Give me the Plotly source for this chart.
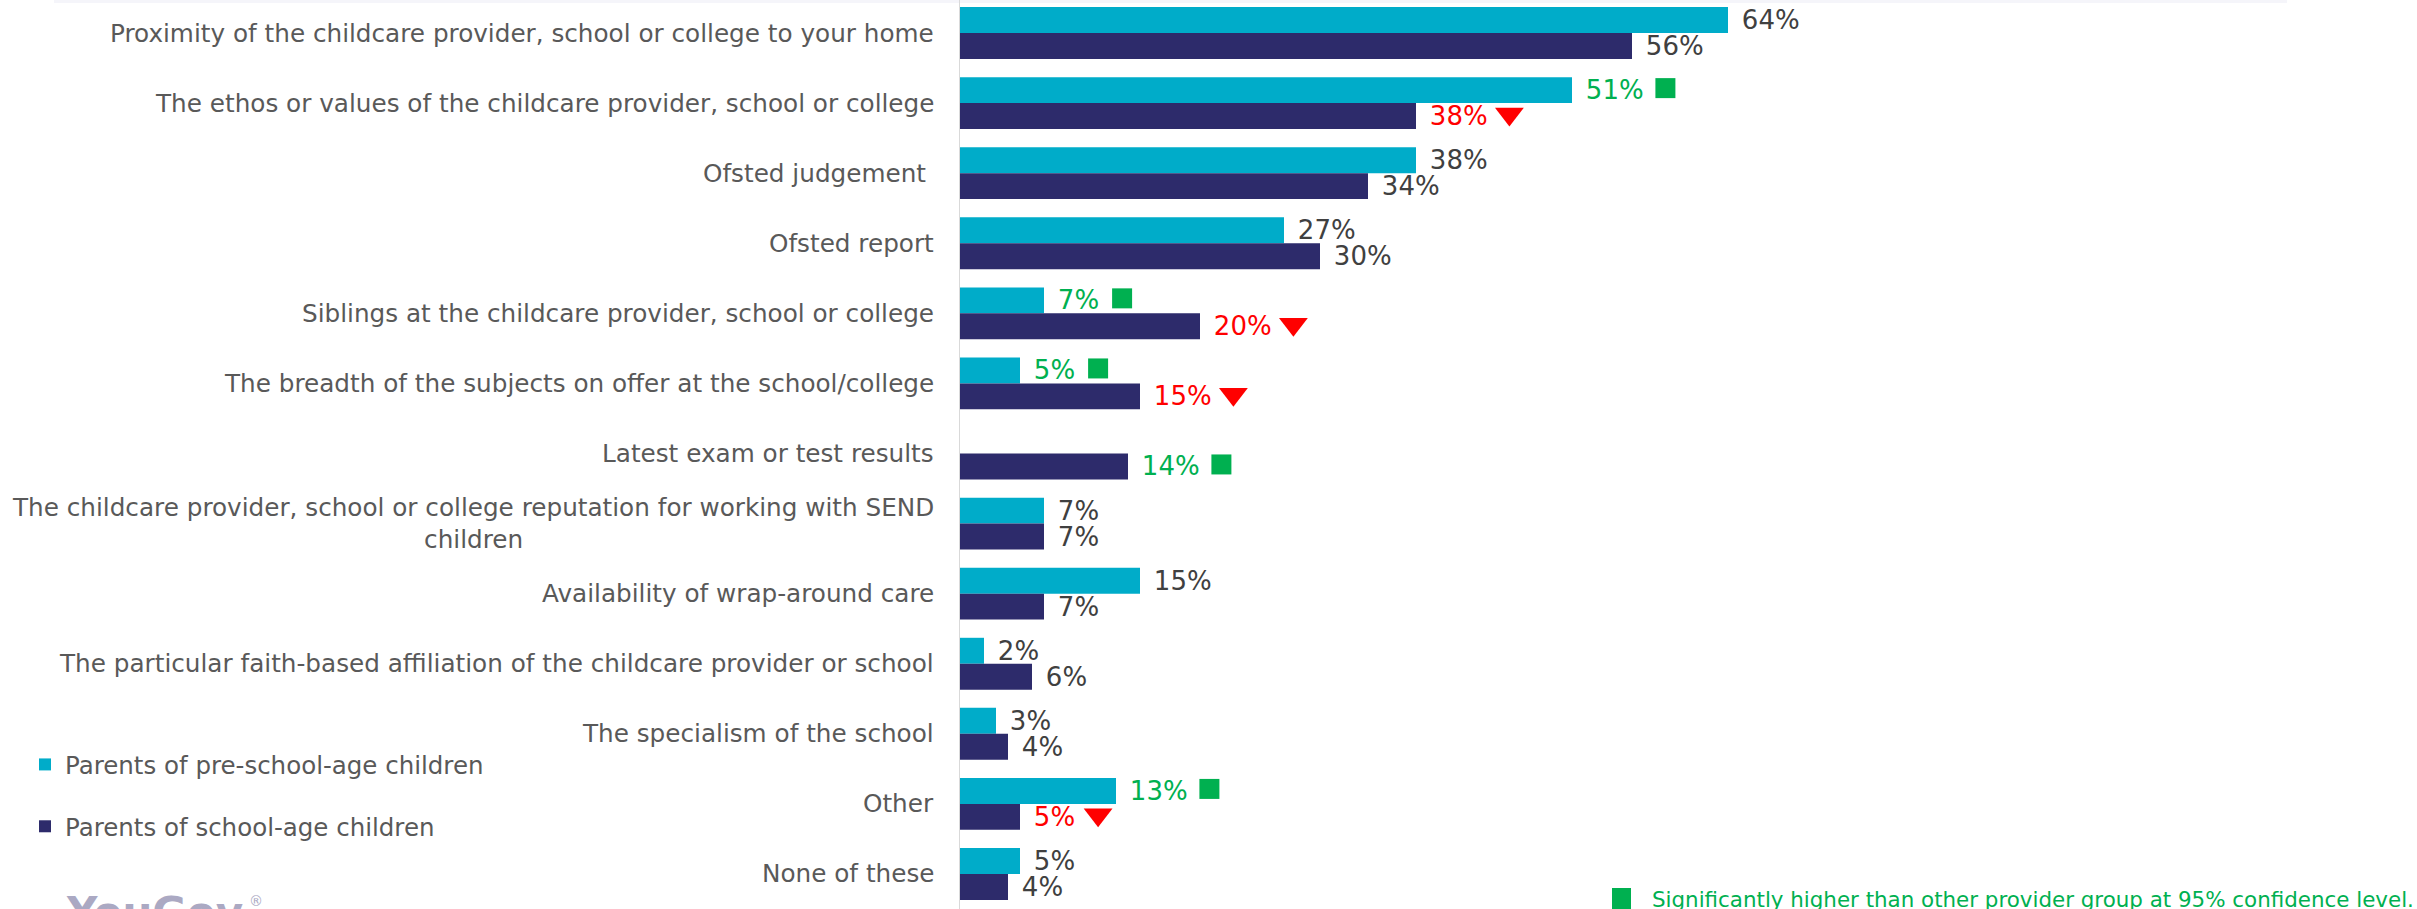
import plotly.graph_objects as go

categories = [
    "Proximity of the childcare provider, school or college to your home",
    "The ethos or values of the childcare provider, school or college",
    "Ofsted judgement\u00a0",
    "Ofsted report",
    "Siblings at the childcare provider, school or college",
    "The breadth of the subjects on offer at the school/college",
    "Latest exam or test results",
    "The childcare provider, school or college reputation for working with SEND<br>children",
    "Availability of wrap-around care",
    "The particular faith-based affiliation of the childcare provider or school",
    "The specialism of the school",
    "Other",
    "None of these",
]
pre_school = [64, 51, 38, 27, 7, 5, None, 7, 15, 2, 3, 13, 5]
school_age = [56, 38, 34, 30, 20, 15, 14, 7, 7, 6, 4, 5, 4]
# significance flags: "higher" / "lower" / ""
pre_sig = ["", "higher", "", "", "higher", "higher", "", "", "", "", "", "higher", ""]
school_sig = ["", "lower", "", "", "lower", "lower", "higher", "", "", "", "", "lower", ""]
series_names = ["Parents of pre-school-age children", "Parents of school-age children"]
footnote = "Significantly higher than other provider group at 95% confidence level."

# ---- style ----
W, H = 2417, 909
ML, MR = 960, 257
X_MAX = 100
Y_RANGE = [12.5, -0.471]
PW = W - ML - MR
PX_X = PW / X_MAX
PX_Y = H / (Y_RANGE[0] - Y_RANGE[1])
BAR_W = 0.37
C_PRE = "#00ACC9"
C_SCH = "#2D2B6B"
C_TXT = "#404040"
C_LAB = "#595959"
C_HI = "#00B050"
C_LO = "#FF0000"
C_LOGO = "#ABA9C3"
FONT = "DejaVu Sans"
FS_CAT = 24.7
FS_VAL = 26
FS_LEG = 24.5

def val_color(sig):
    return C_HI if sig == "higher" else (C_LO if sig == "lower" else C_TXT)

def label_px(v):
    return 3 + 12 + 15.3 * len(str(v)) + 22.8

def bar_text(v):
    return "" if v is None else "\u00a0\u200a" + str(v) + "%"

fig = go.Figure()
ypos = list(range(len(categories)))

for name, vals, sig, col, off in [
    (series_names[0], pre_school, pre_sig, C_PRE, -BAR_W),
    (series_names[1], school_age, school_sig, C_SCH, 0.0),
]:
    fig.add_trace(go.Bar(
        name=name, x=vals, y=ypos, orientation="h",
        width=BAR_W, offset=off,
        marker=dict(color=col, line=dict(width=0)),
        text=[bar_text(v) for v in vals], textposition="outside",
        constraintext="none", cliponaxis=False,
        textfont=dict(family=FONT, size=FS_VAL, color=[val_color(s) for s in sig]),
        hoverinfo="skip", legendgroup=name,
    ))

# significance markers
for vals, sig, yoff_bar in [(pre_school, pre_sig, -BAR_W / 2), (school_age, school_sig, BAR_W / 2)]:
    for kind, sym, col, size, dy in [("higher", "square", C_HI, 20, -2), ("lower", "triangle-down", C_LO, 25, -2)]:
        xs, ys = [], []
        for i, (v, s) in enumerate(zip(vals, sig)):
            if s == kind and v is not None:
                xs.append(v + (label_px(v) + 25) / PX_X)
                ys.append(i + yoff_bar + dy / PX_Y)
        if xs:
            fig.add_trace(go.Scatter(
                x=xs, y=ys, mode="markers", showlegend=False, hoverinfo="skip",
                cliponaxis=False,
                marker=dict(symbol=sym, color=col, size=size, line=dict(width=0)),
            ))

annotations = []
for i, c in enumerate(categories):
    annotations.append(dict(
        x=0, y=i, xref="x", yref="y", text=c, showarrow=False,
        xanchor="right", yanchor="middle", align="center", xshift=-24,
        font=dict(family=FONT, size=FS_CAT, color=C_LAB),
    ))
annotations.append(dict(
    x=(1650 - ML) / PW, y=1 - 885 / H, xref="paper", yref="paper",
    text=footnote, showarrow=False, xanchor="left", yanchor="top",
    font=dict(family=FONT, size=21.4, color=C_HI),
))
annotations.append(dict(
    x=(64 - ML) / PW, y=1 - 886 / H, xref="paper", yref="paper",
    text="<b>YouGov</b>", showarrow=False, xanchor="left", yanchor="top",
    font=dict(family=FONT, size=42, color=C_LOGO),
))
annotations.append(dict(
    x=(256 - ML) / PW, y=1 - 901 / H, xref="paper", yref="paper",
    text="®", showarrow=False, xanchor="center", yanchor="middle",
    font=dict(family=FONT, size=14, color=C_LOGO),
))

shapes = [
    dict(type="rect", xref="paper", yref="paper",
         x0=(54 - ML) / PW, x1=(2287 - ML) / PW, y0=1 - 3 / H, y1=1,
         fillcolor="#F5F5FA", line=dict(width=0), layer="below"),
    dict(type="rect", xref="paper", yref="paper",
         x0=(1612 - ML) / PW, x1=(1631 - ML) / PW, y0=1 - 915 / H, y1=1 - 888 / H,
         fillcolor=C_HI, line=dict(width=0)),
]

fig.update_layout(
    width=W, height=H,
    margin=dict(l=ML, r=MR, t=0, b=0, pad=0),
    paper_bgcolor="white", plot_bgcolor="white",
    barmode="overlay",
    showlegend=True,
    legend=dict(
        x=(25 - ML) / PW, y=1 - 742 / H, xanchor="left", yanchor="top",
        traceorder="grouped", tracegroupgap=27,
        font=dict(family=FONT, size=FS_LEG, color=C_LAB),
        bgcolor="rgba(0,0,0,0)",
    ),
    xaxis=dict(range=[0, X_MAX], showgrid=False, zeroline=False, showticklabels=False,
               showline=False, fixedrange=True),
    yaxis=dict(range=Y_RANGE, showgrid=False, zeroline=False, showticklabels=False,
               showline=True, linecolor="#D9D9D9", linewidth=1.5, ticks="", fixedrange=True),
    annotations=annotations,
    shapes=shapes,
    font=dict(family=FONT),
)

fig.write_html(
    "out.html",
    config={"displayModeBar": False, "staticPlot": True},
    post_script="document.body.style.margin='0';document.body.style.overflow='hidden';",
)
